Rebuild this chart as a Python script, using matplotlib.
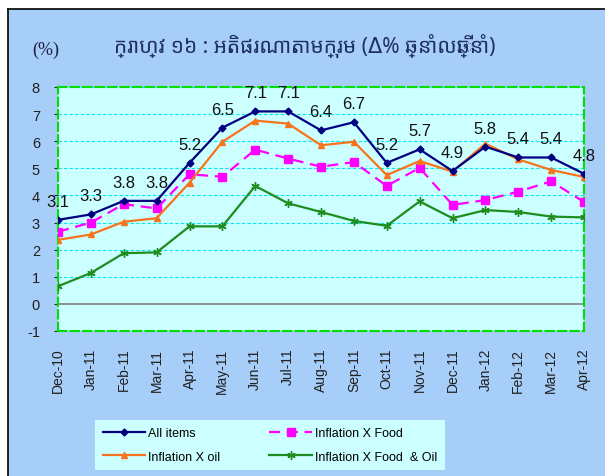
import matplotlib
matplotlib.use("Agg")
import matplotlib.pyplot as plt
from matplotlib.patches import Rectangle
from matplotlib.lines import Line2D

plt.rcParams["font.family"] = ["Liberation Sans", "DejaVu Sans"]
plt.rcParams["axes.unicode_minus"] = False

months = ["Dec-10", "Jan-11", "Feb-11", "Mar-11", "Apr-11", "May-11", "Jun-11",
          "Jul-11", "Aug-11", "Sep-11", "Oct-11", "Nov-11", "Dec-11", "Jan-12",
          "Feb-12", "Mar-12", "Apr-12"]

all_items = [3.1, 3.3, 3.8, 3.8, 5.2, 6.5, 7.1, 7.1, 6.4, 6.7, 5.2, 5.7, 4.9, 5.8, 5.4, 5.4, 4.8]
x_food = [2.66, 3.0, 3.68, 3.52, 4.78, 4.69, 5.69, 5.36, 5.06, 5.23, 4.35, 5.02, 3.65, 3.83, 4.14, 4.52, 3.76]
x_oil = [2.36, 2.56, 3.03, 3.16, 4.47, 5.98, 6.76, 6.65, 5.85, 5.98, 4.75, 5.27, 4.88, 5.91, 5.33, 4.94, 4.68]
x_food_oil = [0.65, 1.14, 1.87, 1.9, 2.86, 2.86, 4.35, 3.71, 3.39, 3.06, 2.88, 3.78, 3.16, 3.46, 3.39, 3.22, 3.19]

labels = ["3.1", "3.3", "3.8", "3.8", "5.2", "6.5", "7.1", "7.1", "6.4", "6.7",
          "5.2", "5.7", "4.9", "5.8", "5.4", "5.4", "4.8"]

title = "ក្រាហ្វ ១៦ : អតិផរណាតាមក្រុម (Δ% ឆ្នាំលើឆ្នាំ)"

BG = "#A6CEF8"
PLOT_BG = "#CCFFFF"

fig = plt.figure(figsize=(6.05, 4.77), dpi=100)
fig.patch.set_facecolor("white")

# blue panel with black frame on top and left
fig.patches.append(Rectangle((8 / 605, 0), 1, 1 - 10 / 477, transform=fig.transFigure,
                             facecolor=BG, edgecolor="none", zorder=-10))
fig.add_artist(Line2D([8 / 605, 1], [1 - 10 / 477, 1 - 10 / 477], color="black", lw=1.2))
fig.add_artist(Line2D([8 / 605, 8 / 605], [0, 1 - 10 / 477], color="black", lw=1.2))

ax = fig.add_axes([58 / 605, 145 / 477, 526 / 605, 244 / 477], zorder=2)
ax.set_facecolor(PLOT_BG)
x = list(range(len(months)))

for v in range(-1, 9):
    if v != 0:
        ax.axhline(v, color="#00E8F0", lw=0.8, ls=(0, (3, 2)), zorder=1)
ax.axhline(0, color="#808080", lw=1.2, zorder=1)

ax.plot(x, x_food_oil, color="#1E8C1E", lw=1.6, marker=(6, 2, 0), ms=6,
        label="Inflation X Food  & Oil", zorder=3)
ax.plot(x, x_food, color="#FF00FF", lw=1.6, ls=(0, (5, 3)), marker="s", ms=6,
        label="Inflation X Food", zorder=3)
ax.plot(x, x_oil, color="#F7731C", lw=1.6, marker="^", ms=5,
        label="Inflation X oil", zorder=4)
ax.plot(x, all_items, color="#000080", lw=1.6, marker="D", ms=3.5,
        label="All items", zorder=5)

for xi, yi, t in zip(x, all_items, labels):
    ax.annotate(t, (xi, yi), xytext=(0, 8), textcoords="offset points",
                ha="center", va="bottom", fontsize=12, color="#111111", zorder=6,
                annotation_clip=False)

ax.set_xlim(0, 16)
ax.set_ylim(-1, 8)
ax.set_yticks(range(-1, 9))
ax.set_xticks(x)
ax.set_xticklabels(months, rotation=90, fontsize=10, color="#202020")
ax.tick_params(axis="y", labelsize=10.5, length=3, pad=10, colors="#202020")
ax.tick_params(axis="x", length=0, pad=12)
for s in ax.spines.values():
    s.set_color("#00E000")
    s.set_linestyle((0, (4, 2)))
    s.set_linewidth(1.5)

fig.text(46 / 605, 1 - 50 / 477, "(%)", fontsize=13, family="Liberation Serif",
         ha="center", va="center", color="#202040")
fig.text(305 / 605, 1 - 46 / 477, title, fontsize=15, ha="center", va="center",
         color="#1F2F5F", family=["Noto Sans Khmer", "DejaVu Sans"])

handles, names = ax.get_legend_handles_labels()
order = [3, 2, 1, 0]
leg = fig.legend([handles[i] for i in order], [names[i] for i in order],
                 loc="center", bbox_to_anchor=(270 / 605, 1 - 446 / 477), ncol=2,
                 prop={"size": 9}, frameon=True, fancybox=False,
                 handlelength=3.4, handletextpad=0.25, columnspacing=3.9,
                 borderpad=0.6, labelspacing=0.9)
leg.get_frame().set_facecolor(PLOT_BG)
leg.get_frame().set_edgecolor("none")
leg.get_frame().set_alpha(1)

fig.savefig("out.png", dpi=100, facecolor=fig.get_facecolor())
